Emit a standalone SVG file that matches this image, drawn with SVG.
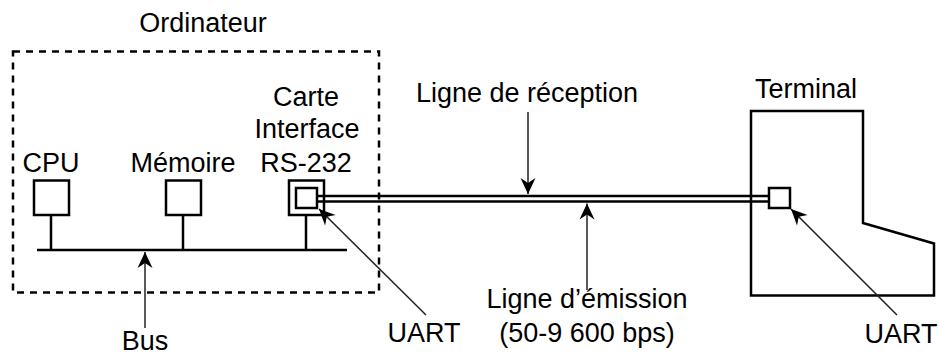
<svg xmlns="http://www.w3.org/2000/svg" width="939" height="357" viewBox="0 0 939 357">
<style>
text{font-family:"Liberation Sans",Arial,Helvetica,sans-serif;font-size:27px;fill:#000;text-anchor:middle}
.box{fill:#fff;stroke:#000;stroke-width:2.5}
.wire{stroke:#000;stroke-width:2.5;fill:none}
.arr{stroke:#222;stroke-width:1.5;fill:none;marker-end:url(#ah)}
</style>
<defs>
<marker id="ah" viewBox="-17 -8 18 16" markerWidth="18" markerHeight="16" refX="0" refY="0" orient="auto" markerUnits="userSpaceOnUse">
<path d="M0,0 L-16,-7.5 L-11,0 L-16,7.5 Z" fill="#000"/>
</marker>
</defs>
<rect width="939" height="357" fill="#fff"/>
<g id="ordinateur">
<rect x="13" y="51.5" width="366" height="241" fill="none" stroke="#000" stroke-width="2.5" stroke-dasharray="7 6"/>
<text x="203" y="32">Ordinateur</text>
</g>
<g id="cpu">
<rect class="box" x="34" y="180.5" width="35" height="34.5"/>
<text x="51" y="172">CPU</text>
</g>
<g id="memoire">
<rect class="box" x="166" y="180.5" width="35" height="34.5"/>
<text x="183" y="172">Mémoire</text>
</g>
<g id="carte">
<rect class="box" x="289" y="180.5" width="35" height="34.5"/>
<rect class="box" x="296" y="188" width="21" height="20"/>
<text x="306" y="106">Carte</text>
<text x="307" y="138">Interface</text>
<text x="306" y="172">RS-232</text>
</g>
<g id="terminal">
<path class="box" d="M751,111 L863,111 L863,223 L934,243.5 L934,295.5 L751,295.5 Z"/>
<rect class="box" x="769" y="188" width="21" height="20"/>
<text x="806" y="98">Terminal</text>
</g>
<g id="connectors">
<line class="wire" x1="37" y1="250" x2="347" y2="250"/>
<line class="wire" x1="51" y1="215" x2="51" y2="250"/>
<line class="wire" x1="183" y1="215" x2="183" y2="250"/>
<line class="wire" x1="306" y1="215" x2="306" y2="250"/>
<line class="wire" x1="317" y1="196" x2="769" y2="196"/>
<line class="wire" x1="317" y1="201.5" x2="769" y2="201.5"/>
<line class="arr" x1="145" y1="328" x2="145" y2="252"/>
<line class="arr" x1="528" y1="112" x2="528" y2="194"/>
<line class="arr" x1="587" y1="290" x2="587" y2="203.5"/>
<line class="arr" x1="426" y1="315" x2="319" y2="209"/>
<line class="arr" x1="897" y1="315" x2="791" y2="209"/>
</g>
<g id="labels">
<text x="527" y="102">Ligne de réception</text>
<text x="587" y="308">Ligne d’émission</text>
<text x="587" y="342">(50-9 600 bps)</text>
<text x="424" y="342">UART</text>
<text x="901" y="343">UART</text>
<text x="145" y="350">Bus</text>
</g>
</svg>
